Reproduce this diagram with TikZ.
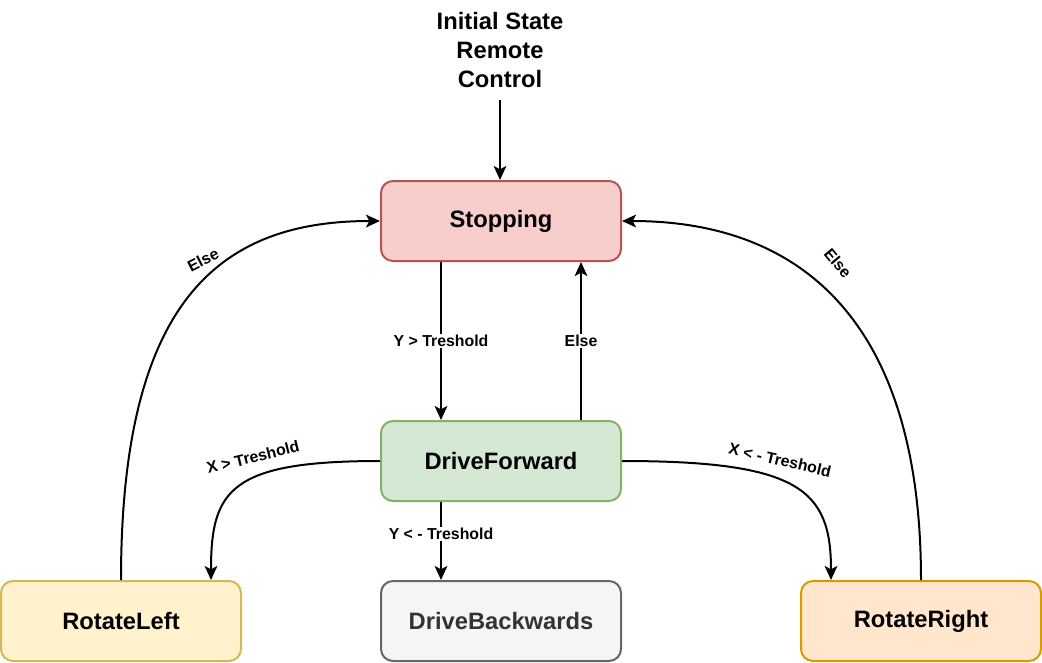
\documentclass[tikz,border=0pt]{standalone}
\usepackage{fontspec}
\setmainfont{Liberation Sans}
\usetikzlibrary{arrows.meta}
\definecolor{redF}{HTML}{F8CECC}\definecolor{redD}{HTML}{B85450}
\definecolor{grnF}{HTML}{D5E8D4}\definecolor{grnD}{HTML}{82B366}
\definecolor{yelF}{HTML}{FFF2CC}\definecolor{yelD}{HTML}{D6B656}
\definecolor{gryF}{HTML}{F5F5F5}\definecolor{gryD}{HTML}{666666}\definecolor{gryT}{HTML}{333333}
\definecolor{orgF}{HTML}{FFE6CC}\definecolor{orgD}{HTML}{D79B00}
\tikzset{
  statebox/.style={draw, line width=1.5pt, rounded corners=9pt, minimum width=180pt, minimum height=60pt, inner sep=0pt,
    font=\fontsize{17.8}{21}\selectfont\bfseries},
  conn/.style={line width=1.5pt, -{Stealth[length=10.5pt,width=9.5pt,inset=2.5pt]}},
  lbl/.style={font=\fontsize{11.9}{14}\selectfont\bfseries, inner sep=1pt},
  lblbg/.style={lbl, fill=white},
}
\begin{document}
\begin{tikzpicture}[x=0.75pt,y=-0.75pt]
\useasboundingbox (0,0) rectangle (1042,662);
\node[statebox, fill=redF, draw=redD] (stop) at (501,221) {Stopping};
\node[statebox, fill=grnF, draw=grnD] (fwd) at (501,461) {DriveForward};
\node[statebox, fill=yelF, draw=yelD] (left) at (121,621) {RotateLeft};
\node[statebox, fill=gryF, draw=gryD, text=gryT] (back) at (501,621) {DriveBackwards};
\node[statebox, fill=orgF, draw=orgD] (right) at (921,621) {RotateRight};
\node[align=center, font=\fontsize{17.8}{21.75}\selectfont\bfseries, inner sep=0pt] (init) at (500,50) {Initial State\\Remote\\Control};
\coordinate (initS) at (500,100);
\draw[conn] (initS) -- (stop.north -| initS);
\draw[conn] ([xshift=-45pt]stop.south) -- node[lblbg]{Y > Treshold} ([xshift=-45pt]fwd.north);
\draw[conn] ([xshift=60pt]fwd.north) -- node[lblbg]{Else} ([xshift=60pt]stop.south);
\draw[conn] ([xshift=-45pt]fwd.south) -- node[lblbg, pos=0.41]{Y < - Treshold} ([xshift=-45pt]back.north);
\draw[conn] (fwd.west) .. controls (230,461) and (211,490) .. ([xshift=67.5pt]left.north);
\draw[conn] (fwd.east) .. controls (800,461) and (831,490) .. ([xshift=-67.5pt]right.north);
\draw[conn] (left.north) .. controls (121,300) and (220,221) .. (stop.west);
\draw[conn] (right.north) .. controls (921,320) and (800,221) .. (stop.east);
\node[lbl, rotate=14] (l1) at (253,457) {X > Treshold};
\node[lbl, rotate=-13] (l2) at (780,460) {X < - Treshold};
\node[lbl, rotate=27] (l3) at (203,260) {Else};
\node[lbl, rotate=-50] (l4) at (838,263) {Else};
\end{tikzpicture}
\end{document}
